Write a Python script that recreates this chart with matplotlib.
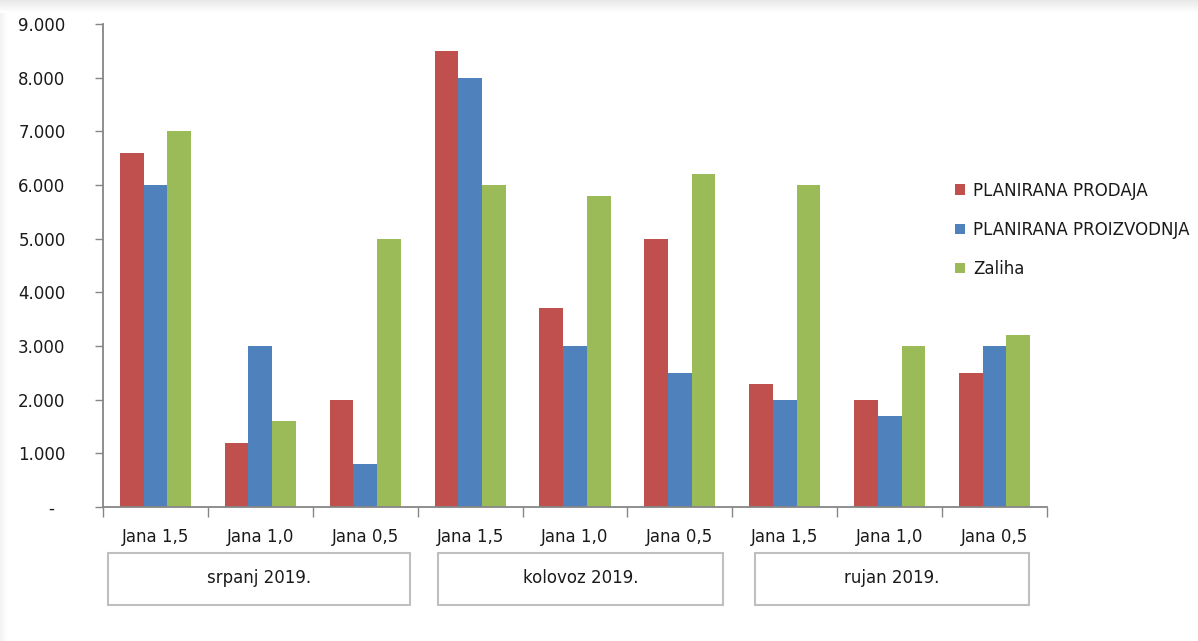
import numpy as np
import matplotlib.pyplot as plt
from matplotlib.patches import Rectangle
from matplotlib.ticker import FuncFormatter

months = ["srpanj 2019.", "kolovoz 2019.", "rujan 2019."]
categories = ["Jana 1,5", "Jana 1,0", "Jana 0,5"] * 3
series_names = ["PLANIRANA PRODAJA", "PLANIRANA PROIZVODNJA", "Zaliha"]
prodaja = [6600, 1200, 2000, 8500, 3700, 5000, 2300, 2000, 2500]
proizvodnja = [6000, 3000, 800, 8000, 3000, 2500, 2000, 1700, 3000]
zaliha = [7000, 1600, 5000, 6000, 5800, 6200, 6000, 3000, 3200]

colors = ["#C0504D", "#4F81BD", "#9BBB59"]
axis_gray = "#868686"
text_col = "#1a1a1a"

plt.rcParams['font.family'] = ['DejaVu Sans']
fig = plt.figure(figsize=(11.98, 6.41), dpi=100)
fig.patch.set_facecolor("white")

# light shadow strips along top and left edge
top = fig.add_axes([0, 1 - 13 / 641, 1, 13 / 641])
top.imshow(np.linspace(0.91, 1.0, 20).reshape(-1, 1), cmap="gray", vmin=0, vmax=1,
           aspect="auto", extent=[0, 1, 0, 1])
top.axis("off")
left = fig.add_axes([0, 0, 8 / 1198, 1 - 13 / 641])
left.imshow(np.linspace(0.95, 1.0, 20).reshape(1, -1), cmap="gray", vmin=0, vmax=1,
            aspect="auto", extent=[0, 1, 0, 1])
left.axis("off")

ax = fig.add_axes([103 / 1198, 1 - 507 / 641, 944 / 1198, 483 / 641])
x = np.arange(len(categories)) + 0.5
w = 0.226
for i, (vals, name) in enumerate(zip([prodaja, proizvodnja, zaliha], series_names)):
    ax.bar(x + (i - 1) * w, vals, width=w, color=colors[i], label=name, zorder=2)

ax.set_xlim(0, len(categories))
ax.set_ylim(0, 9000)
ax.set_yticks(np.arange(0, 9001, 1000))
ax.yaxis.set_major_formatter(FuncFormatter(
    lambda v, p: "-  " if v == 0 else f"{int(v):,}".replace(",", ".")))
ax.tick_params(axis="y", length=6, width=1, color=axis_gray, pad=21,
               labelsize=12, labelcolor=text_col)

ax.set_xticks(np.arange(0, len(categories) + 1))
ax.set_xticklabels([])
ax.set_xticks(x, minor=True)
ax.set_xticklabels(categories, minor=True)
ax.tick_params(axis="x", which="major", length=7, width=1, color=axis_gray)
ax.tick_params(axis="x", which="minor", length=0, pad=15, labelsize=12,
               labelcolor=text_col)

for s in ["top", "right"]:
    ax.spines[s].set_visible(False)
for s in ["left", "bottom"]:
    ax.spines[s].set_color(axis_gray)
    ax.spines[s].set_linewidth(1.3)

# month group boxes below the category labels
boxes = [(0.048, 2.927), (3.194, 5.911), (6.216, 8.828)]
trans = ax.get_xaxis_transform()
for (x0, x1), m in zip(boxes, months):
    ax.add_patch(Rectangle((x0, -0.2029), x1 - x0, 0.1077, transform=trans,
                           fill=False, edgecolor="#BFBFBF", linewidth=1.5,
                           clip_on=False))
    ax.text((x0 + x1) / 2, -0.146, m, transform=trans, ha="center", va="center",
            fontsize=12, color=text_col)

leg = fig.legend(loc="upper left", bbox_to_anchor=(948 / 1198, 1 - 175 / 641),
                 frameon=False, fontsize=12, handlelength=0.6, handleheight=0.6,
                 handletextpad=0.5, labelspacing=1.27, borderaxespad=0)
for t in leg.get_texts():
    t.set_color(text_col)

fig.savefig("out.png", dpi=100)
